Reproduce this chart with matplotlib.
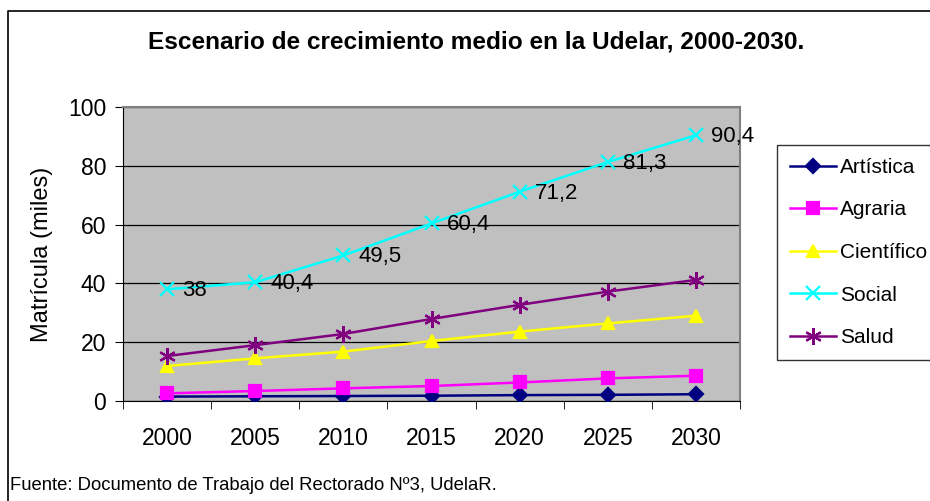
#!/usr/bin/env python

"""Escenario de crecimiento medio en la Udelar, 2000-2030."""

import numpy as np
import matplotlib.pyplot as plt
from matplotlib.lines import Line2D

plt.rcParams['font.family'] = ['Liberation Sans', 'DejaVu Sans']

# data (thousands of students)
years = ['2000', '2005', '2010', '2015', '2020', '2025', '2030']
artistica = [1.5, 1.6, 1.7, 1.8, 2.0, 2.1, 2.3]
agraria = [2.6, 3.4, 4.3, 5.1, 6.3, 7.7, 8.6]
cientifico = [11.9, 14.5, 16.8, 20.4, 23.6, 26.4, 29.0]
social = [38, 40.4, 49.5, 60.4, 71.2, 81.3, 90.4]
salud = [15.3, 19.0, 22.8, 27.9, 32.7, 37.2, 41.2]
social_labels = ['38', '40,4', '49,5', '60,4', '71,2', '81,3', '90,4']


def main():
    """Plot the enrollment scenario."""

    fig = plt.figure(figsize=(9.3, 5.01), dpi=100)
    ax = fig.add_axes([0.1323, 0.1996, 0.6634, 0.5868])
    x = np.arange(len(years))

    # series: name, values, color, marker, marker size
    series = [
        ('Artística', artistica, '#000080', 'D', 7),
        ('Agraria', agraria, '#FF00FF', 's', 9),
        ('Científico', cientifico, '#FFFF00', '^', 9),
        ('Social', social, '#00FFFF', 'x', 10),
        ('Salud', salud, '#800080', (6, 2, 0), 12),
    ]
    for name, vals, color, marker, ms in series:
        ax.plot(x, vals, color=color, marker=marker, markersize=ms,
                linewidth=1.8, markeredgewidth=1.6, markeredgecolor=color,
                label=name, zorder=3)

    # data labels on Social
    for xi, v, lab in zip(x, social, social_labels):
        ax.annotate(lab, (xi, v), xytext=(11, -1), textcoords='offset points',
                    ha='left', va='center', fontsize=16)

    # axes properties
    ax.set_facecolor('#C0C0C0')
    ax.set_xlim(-0.5, len(years) - 0.5)
    ax.set_ylim(0, 100)
    ax.set_yticks(range(0, 101, 20))
    ax.yaxis.grid(True, color='black', linewidth=0.9)
    ax.set_axisbelow(True)
    ax.set_xticks(x)
    ax.set_xticklabels(years)
    ax.set_xticks(np.arange(-0.5, len(years), 1), minor=True)
    ax.tick_params(axis='x', which='major', length=0, pad=19, labelsize=16.5)
    ax.tick_params(axis='x', which='minor', length=6, direction='out')
    ax.tick_params(axis='y', length=6, direction='out', pad=6, labelsize=16.5)
    for side in ['top', 'right']:
        ax.spines[side].set_color('#808080')
        ax.spines[side].set_linewidth(1.5)
    for side in ['left', 'bottom']:
        ax.spines[side].set_color('black')
    ax.set_ylabel('Matrícula (miles)', fontsize=17, labelpad=11)

    # title and source
    fig.text(0.512, 0.916, 'Escenario de crecimiento medio en la Udelar, 2000-2030.',
             ha='center', va='center', fontsize=17.6, fontweight='bold')
    fig.text(0.011, 0.03, 'Fuente: Documento de Trabajo del Rectorado Nº3, UdelaR.',
             ha='left', va='center', fontsize=13.3)

    # outer frame (left and top edges)
    fig.add_artist(Line2D([8 / 930, 8 / 930, 1.0], [0.0, 1 - 11 / 501, 1 - 11 / 501],
                          transform=fig.transFigure, color='black', linewidth=1.2))

    # legend
    leg = fig.legend(loc='upper left', bbox_to_anchor=(777 / 930, 1 - 145 / 501),
                     fontsize=15, frameon=True, fancybox=False, edgecolor='black',
                     labelspacing=1.13, handlelength=2.2, handletextpad=0.2,
                     borderpad=0.62, borderaxespad=0)
    leg.get_frame().set_linewidth(1.0)

    fig.savefig('out.png', dpi=100)


if __name__ == '__main__':
    main()
